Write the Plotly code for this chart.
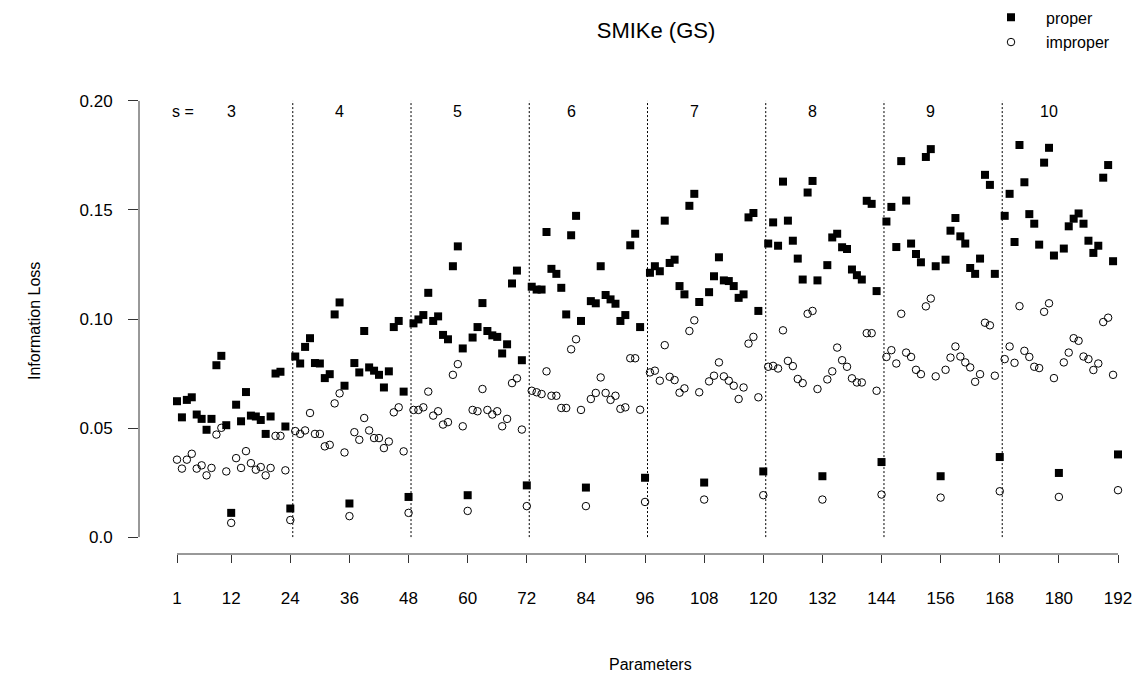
import plotly.graph_objects as go

# ---------------- data ----------------
params = list(range(1, 193))

proper = [
    0.0623, 0.0549, 0.0629, 0.0641, 0.0562, 0.0542, 0.0492, 0.0542, 0.0788, 0.0831, 0.0513, 0.0111,
    0.0607, 0.0531, 0.0665, 0.0557, 0.0553, 0.0537, 0.0473, 0.0553, 0.0750, 0.0758, 0.0507, 0.0131,
    0.0828, 0.0796, 0.0872, 0.0912, 0.0798, 0.0796, 0.0729, 0.0747, 0.1021, 0.1076, 0.0694, 0.0154,
    0.0798, 0.0755, 0.0945, 0.0778, 0.0763, 0.0744, 0.0686, 0.0760, 0.0963, 0.0991, 0.0667, 0.0184,
    0.0980, 0.0998, 0.1018, 0.1120, 0.0991, 0.1012, 0.0927, 0.0907, 0.1242, 0.1333, 0.0865, 0.0192,
    0.0915, 0.0963, 0.1073, 0.0945, 0.0925, 0.0918, 0.0842, 0.0884, 0.1163, 0.1222, 0.0811, 0.0237,
    0.1148, 0.1135, 0.1135, 0.1399, 0.1230, 0.1207, 0.1143, 0.1021, 0.1384, 0.1473, 0.0991, 0.0227,
    0.1082, 0.1072, 0.1242, 0.1110, 0.1090, 0.1070, 0.0991, 0.1018, 0.1338, 0.1391, 0.0963, 0.0272,
    0.1212, 0.1242, 0.1219, 0.1451, 0.1257, 0.1272, 0.1151, 0.1113, 0.1519, 0.1574, 0.1078, 0.0250,
    0.1123, 0.1196, 0.1283, 0.1177, 0.1174, 0.1151, 0.1097, 0.1113, 0.1466, 0.1486, 0.1037, 0.0301,
    0.1346, 0.1443, 0.1336, 0.1630, 0.1451, 0.1359, 0.1277, 0.1181, 0.1580, 0.1633, 0.1177, 0.0279,
    0.1247, 0.1374, 0.1391, 0.1329, 0.1321, 0.1227, 0.1201, 0.1181, 0.1542, 0.1528, 0.1128, 0.0344,
    0.1447, 0.1514, 0.1330, 0.1724, 0.1543, 0.1346, 0.1298, 0.1260, 0.1743, 0.1779, 0.1242, 0.0279,
    0.1272, 0.1405, 0.1463, 0.1379, 0.1346, 0.1234, 0.1207, 0.1277, 0.1661, 0.1615, 0.1207, 0.0367,
    0.1473, 0.1574, 0.1353, 0.1798, 0.1627, 0.1481, 0.1437, 0.1341, 0.1717, 0.1785, 0.1291, 0.0294,
    0.1323, 0.1425, 0.1460, 0.1484, 0.1437, 0.1359, 0.1303, 0.1336, 0.1648, 0.1706, 0.1265, 0.0379,
]

improper = [
    0.0355, 0.0314, 0.0355, 0.0382, 0.0314, 0.0329, 0.0283, 0.0317, 0.0470, 0.0501, 0.0301, 0.0065,
    0.0362, 0.0317, 0.0394, 0.0339, 0.0309, 0.0321, 0.0283, 0.0317, 0.0464, 0.0464, 0.0306, 0.0078,
    0.0486, 0.0473, 0.0489, 0.0569, 0.0473, 0.0473, 0.0416, 0.0423, 0.0613, 0.0659, 0.0388, 0.0096,
    0.0481, 0.0446, 0.0546, 0.0489, 0.0454, 0.0454, 0.0408, 0.0438, 0.0572, 0.0595, 0.0393, 0.0111,
    0.0583, 0.0583, 0.0595, 0.0667, 0.0557, 0.0577, 0.0516, 0.0527, 0.0744, 0.0793, 0.0508, 0.0120,
    0.0583, 0.0577, 0.0679, 0.0583, 0.0562, 0.0577, 0.0508, 0.0542, 0.0706, 0.0728, 0.0493, 0.0142,
    0.0671, 0.0664, 0.0656, 0.0760, 0.0648, 0.0648, 0.0592, 0.0592, 0.0861, 0.0907, 0.0583, 0.0142,
    0.0633, 0.0661, 0.0732, 0.0661, 0.0629, 0.0648, 0.0588, 0.0595, 0.0820, 0.0820, 0.0584, 0.0161,
    0.0755, 0.0763, 0.0717, 0.0880, 0.0735, 0.0720, 0.0662, 0.0682, 0.0945, 0.0994, 0.0664, 0.0172,
    0.0714, 0.0740, 0.0801, 0.0737, 0.0717, 0.0694, 0.0633, 0.0686, 0.0887, 0.0918, 0.0641, 0.0192,
    0.0781, 0.0785, 0.0773, 0.0948, 0.0808, 0.0784, 0.0725, 0.0706, 0.1024, 0.1037, 0.0679, 0.0172,
    0.0723, 0.0760, 0.0869, 0.0811, 0.0781, 0.0728, 0.0709, 0.0709, 0.0935, 0.0935, 0.0671, 0.0195,
    0.0826, 0.0857, 0.0796, 0.1024, 0.0846, 0.0826, 0.0767, 0.0747, 0.1058, 0.1094, 0.0737, 0.0181,
    0.0767, 0.0823, 0.0874, 0.0828, 0.0801, 0.0778, 0.0712, 0.0747, 0.0983, 0.0971, 0.0740, 0.0210,
    0.0816, 0.0874, 0.0799, 0.1059, 0.0854, 0.0826, 0.0781, 0.0775, 0.1033, 0.1072, 0.0729, 0.0184,
    0.0801, 0.0846, 0.0912, 0.0900, 0.0828, 0.0816, 0.0766, 0.0796, 0.0986, 0.1006, 0.0744, 0.0215,
]

x_ticks = [1, 12, 24, 36, 48, 60, 72, 84, 96, 108, 120, 132, 144, 156, 168, 180, 192]
y_ticks = [0.0, 0.05, 0.10, 0.15, 0.20]
y_ticktext = ["0.0", "0.05", "0.10", "0.15", "0.20"]
separators = [24.5, 48.5, 72.5, 96.5, 120.5, 144.5, 168.5]
s_labels = ["3", "4", "5", "6", "7", "8", "9", "10"]
s_label_pos = [12, 34, 58, 81, 106, 130, 154, 178]

FONT = "Liberation Sans, Arial, Helvetica, sans-serif"
AXC = "#333333"

fig = go.Figure()
fig.add_trace(go.Scatter(
    x=params, y=proper, mode="markers", name="proper",
    marker=dict(symbol="square", size=8, color="black", line=dict(width=0)),
    cliponaxis=False, legendgroup="a"))
fig.add_trace(go.Scatter(
    x=params, y=improper, mode="markers", name="improper",
    marker=dict(symbol="circle-open", size=7.5, color="black", line=dict(width=1, color="black")),
    cliponaxis=False, legendgroup="b"))

shapes = []
for s in separators:
    shapes.append(dict(type="line", xref="x", yref="y", x0=s, x1=s, y0=0, y1=0.2,
                       line=dict(color="black", width=1, dash="2px,2px")))
# R-style axis lines spanning first to last tick
shapes.append(dict(type="line", xref="x", yref="paper", x0=x_ticks[0], x1=x_ticks[-1], y0=0, y1=0,
                   line=dict(color=AXC, width=1)))
shapes.append(dict(type="line", xref="paper", yref="y", x0=0, x1=0, y0=y_ticks[0], y1=y_ticks[-1],
                   line=dict(color=AXC, width=1)))

annotations = [dict(x=2.2, y=0.195, xref="x", yref="y", text="s =", showarrow=False,
                    font=dict(size=16, color="black", family=FONT))]
for lab, pos in zip(s_labels, s_label_pos):
    annotations.append(dict(x=pos, y=0.195, xref="x", yref="y", text=lab, showarrow=False,
                            font=dict(size=16, color="black", family=FONT)))
annotations.append(dict(x=(650 - 139) / 999, y=(554 - 665) / 472, xref="paper", yref="paper",
                        xanchor="center", yanchor="middle",
                        text="Parameters", showarrow=False,
                        font=dict(size=16, color="black", family=FONT)))
annotations.append(dict(x=(35 - 139) / 999, y=(554 - 320) / 472, xref="paper", yref="paper",
                        xanchor="center", yanchor="middle",
                        text="Information Loss", showarrow=False, textangle=-90,
                        font=dict(size=16, color="black", family=FONT)))

fig.update_layout(
    width=1138, height=680,
    margin=dict(l=139, r=0, t=82, b=126),
    paper_bgcolor="white", plot_bgcolor="white",
    font=dict(family=FONT, size=16, color="black"),
    title=dict(text="SMIKe (GS)", x=656 / 1138, xanchor="center", y=1 - 30 / 680, yanchor="middle",
               font=dict(size=22, color="black", family=FONT)),
    xaxis=dict(range=[1 - 38 / 4.9267, 1 + (1138 - 177) / 4.9267],
               tickmode="array", tickvals=x_ticks, ticktext=[str(v) for v in x_ticks],
               ticks="outside", ticklen=8, tickwidth=1, tickcolor=AXC,
               showline=False, showgrid=False, zeroline=False,
               tickfont=dict(size=17, color="black", family=FONT), ticklabelstandoff=21),
    yaxis=dict(range=[-17 / 2190, 0.2 + 17 / 2190],
               tickmode="array", tickvals=y_ticks, ticktext=y_ticktext,
               ticks="outside", ticklen=10, tickwidth=1, tickcolor=AXC,
               showline=False, showgrid=False, zeroline=False,
               tickfont=dict(size=17, color="black", family=FONT), ticklabelstandoff=12),
    shapes=shapes, annotations=annotations,
    showlegend=True,
    legend=dict(x=(976 - 139) / 999, y=(554 + 2) / 472, xanchor="left", yanchor="top",
                bgcolor="rgba(0,0,0,0)", borderwidth=0, itemwidth=60, tracegroupgap=1,
                font=dict(size=16, color="black", family=FONT)),
)

fig.write_html("out.html")
